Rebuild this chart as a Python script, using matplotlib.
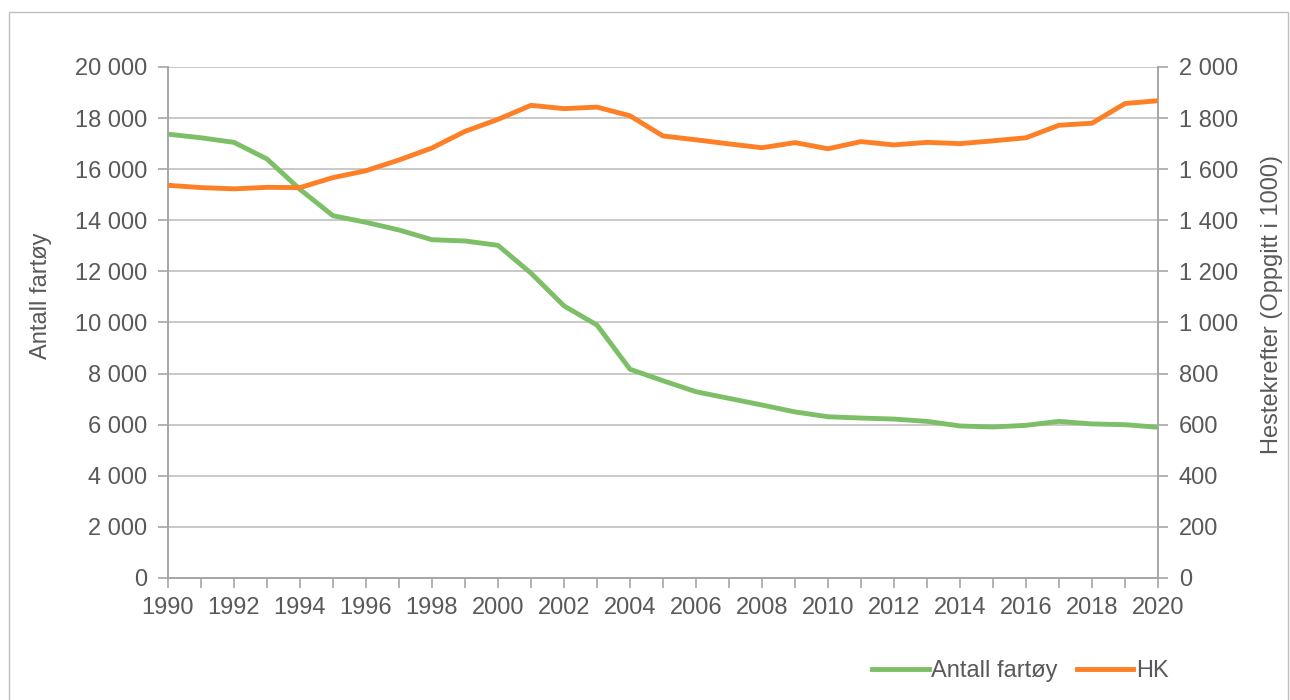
import matplotlib.pyplot as plt
from matplotlib.patches import Rectangle
from matplotlib.ticker import FuncFormatter, MultipleLocator

plt.rcParams['font.family'] = ['Liberation Sans', 'DejaVu Sans']

## Data ##
years = list(range(1990, 2021))
antall_fartoy = [17370, 17230, 17050, 16400, 15210, 14180, 13920, 13620, 13240, 13190,
                 13020, 11930, 10650, 9900, 8170, 7720, 7290, 7030, 6770, 6500,
                 6310, 6260, 6220, 6130, 5950, 5910, 5975, 6130, 6030, 6000, 5900]
hk = [1537, 1528, 1523, 1529, 1528, 1567, 1594, 1636, 1683, 1748,
      1795, 1850, 1837, 1843, 1809, 1730, 1715, 1699, 1684, 1704,
      1680, 1708, 1695, 1705, 1700, 1711, 1723, 1772, 1780, 1857, 1868]

GREEN = '#7cbf67'
ORANGE = '#fd7f26'
TEXT = '#595959'
AXIS = '#a6a6a6'
GRID = '#c0c0c0'
FS = 17


def space_thousands(v, pos):
    return f"{int(v):,}".replace(",", " ")


fig = plt.figure(figsize=(12.9, 7), dpi=100)
ax = fig.add_axes([0.1302, 0.1743, 0.7675, 0.7300])
ax2 = ax.twinx()

# ramme rundt hele figuren
fig.patches.append(Rectangle((9 / 1290, -0.01), 1279 / 1290, 1 - 12 / 700 + 0.01,
                             transform=fig.transFigure, fill=False,
                             edgecolor='#bfbfbf', linewidth=1))

l1, = ax.plot(years, antall_fartoy, color=GREEN, linewidth=3.5, label='Antall fartøy',
              solid_joinstyle='round', zorder=3)
l2, = ax2.plot(years, hk, color=ORANGE, linewidth=3.5, label='HK',
               solid_joinstyle='round', zorder=3)

ax.set_xlim(1990, 2020)
ax.set_ylim(0, 20000)
ax2.set_ylim(0, 2000)

ax.yaxis.set_major_locator(MultipleLocator(2000))
ax2.yaxis.set_major_locator(MultipleLocator(200))
ax.yaxis.set_major_formatter(FuncFormatter(space_thousands))
ax2.yaxis.set_major_formatter(FuncFormatter(space_thousands))
ax.xaxis.set_major_locator(MultipleLocator(2))
ax.xaxis.set_minor_locator(MultipleLocator(1))

ax.grid(axis='y', color=GRID, linewidth=1.2)
ax.set_axisbelow(True)

for a in (ax, ax2):
    a.spines['top'].set_visible(False)
    for s in ('left', 'right', 'bottom'):
        a.spines[s].set_color(AXIS)
        a.spines[s].set_linewidth(1.2)
    a.tick_params(colors=TEXT, labelsize=FS, length=7, width=1.2, color=AXIS)
ax.tick_params(axis='x', which='minor', length=7, width=1.2, color=AXIS)
ax.tick_params(axis='x', pad=7)
ax.tick_params(axis='y', pad=8)
ax2.tick_params(axis='y', pad=8)

ax.set_ylabel('Antall fartøy', fontsize=FS, color=TEXT)
ax2.set_ylabel('Hestekrefter (Oppgitt i 1000)', fontsize=FS, color=TEXT)
ax.yaxis.set_label_coords(-0.117, 0.552)
ax2.yaxis.set_label_coords(1.104, 0.536)

fig.legend(handles=[l1, l2], loc='center', bbox_to_anchor=(0.791, 0.041), ncol=2,
           frameon=False, fontsize=FS, labelcolor=TEXT, handlelength=2.4,
           handletextpad=0.1, columnspacing=0.8)

fig.savefig('out.png', dpi=100)
